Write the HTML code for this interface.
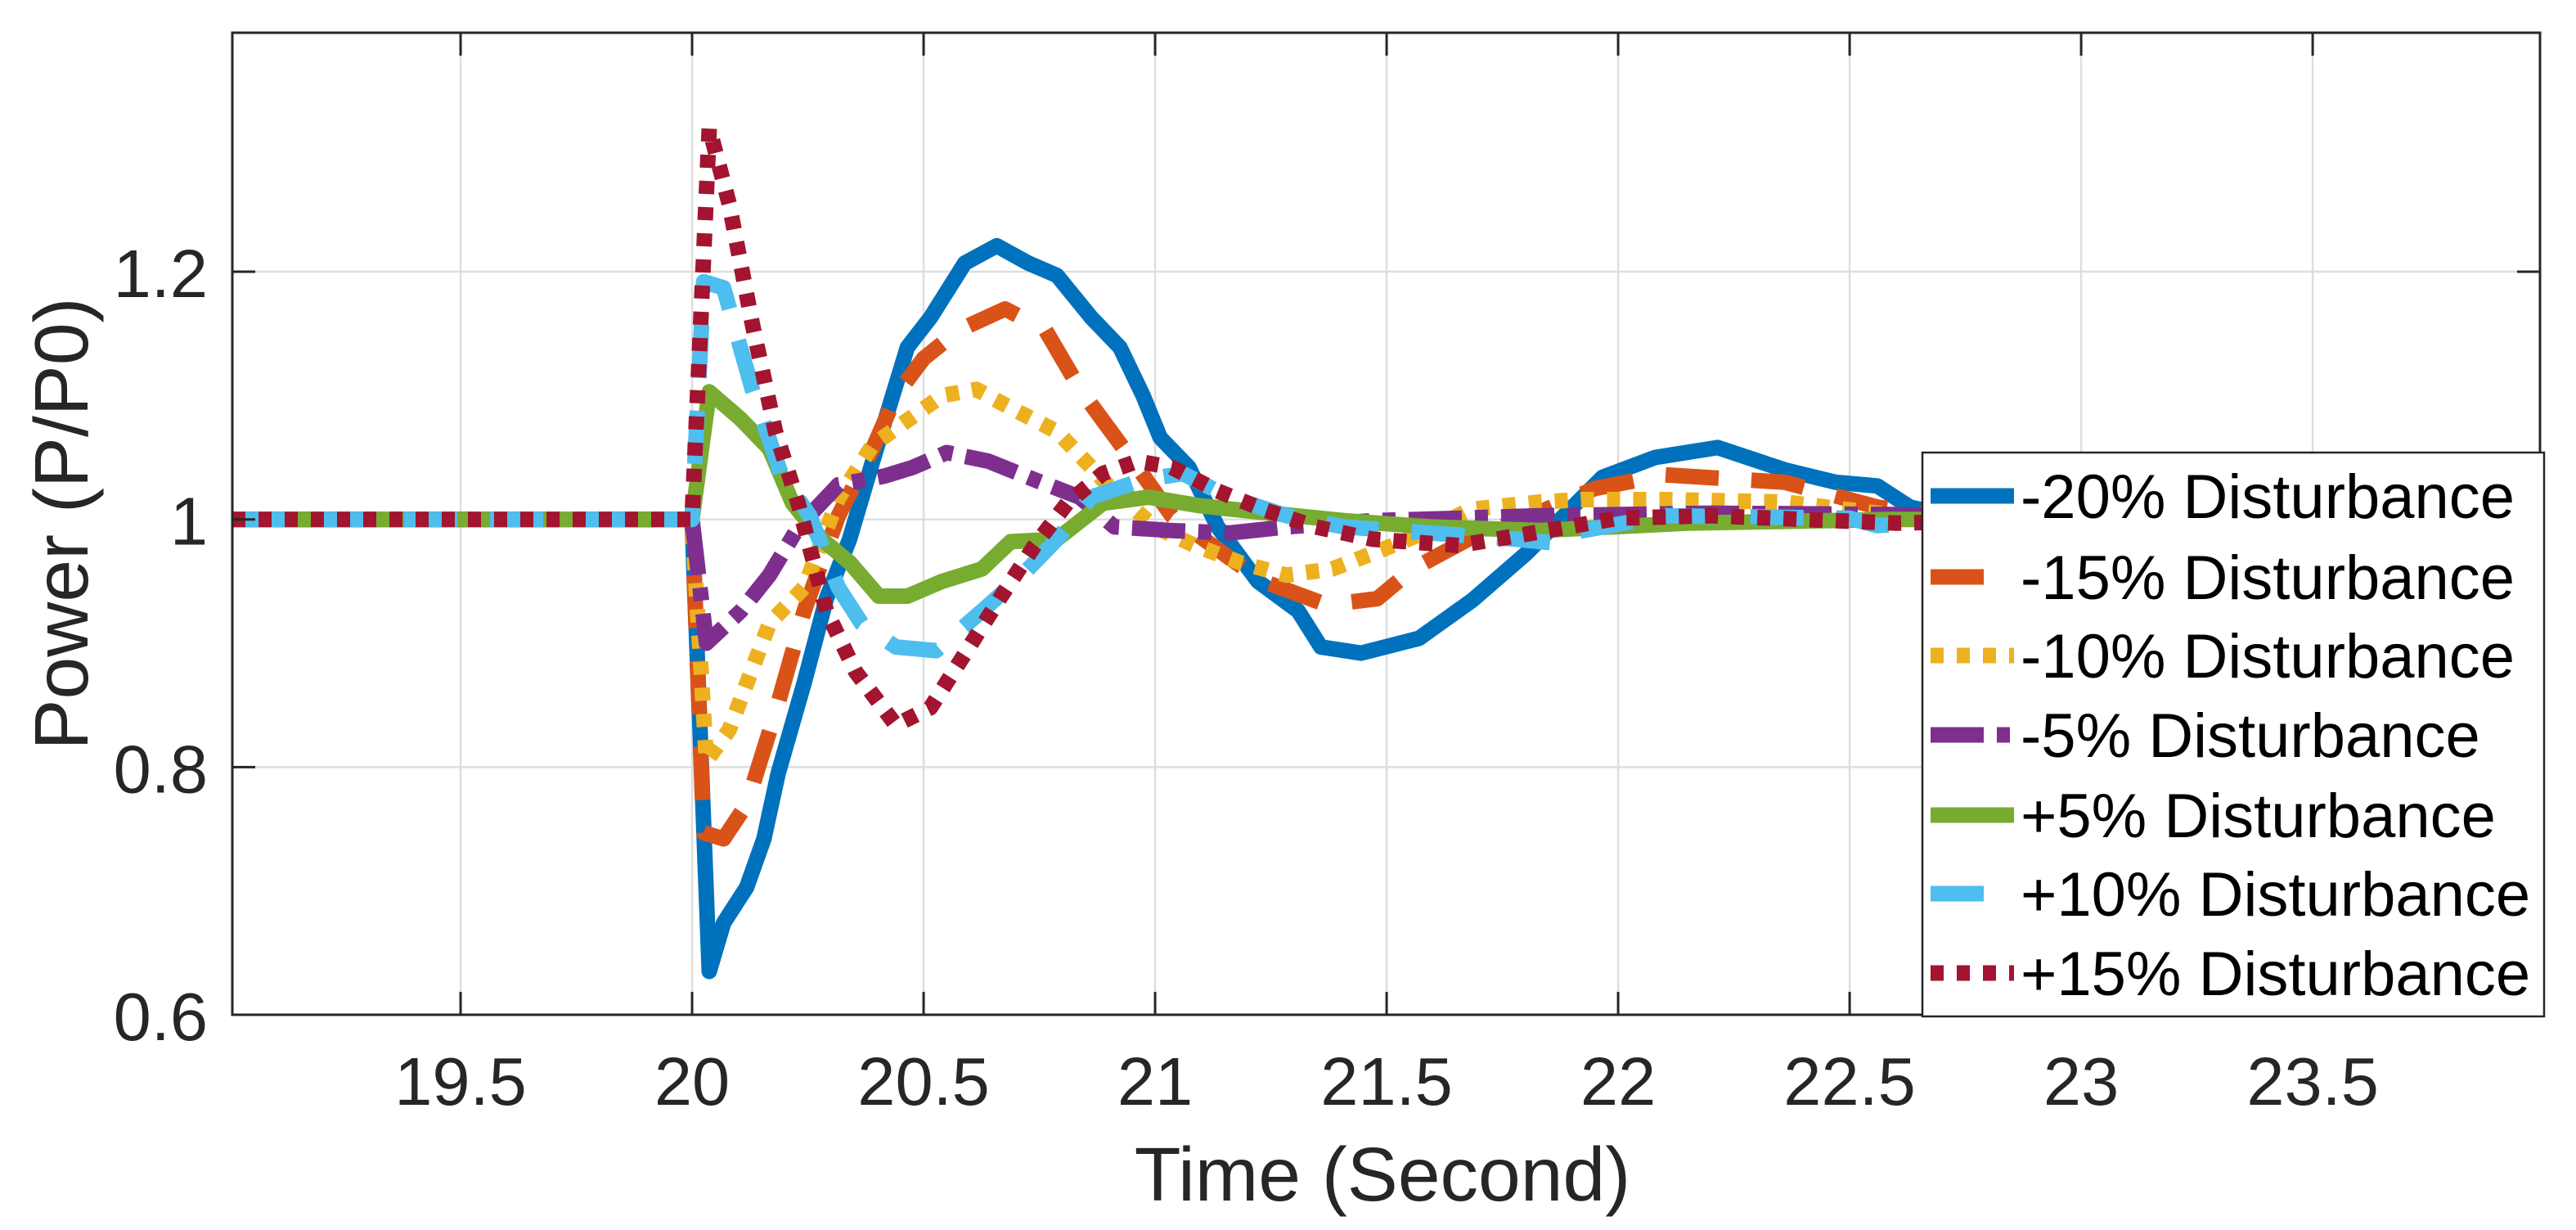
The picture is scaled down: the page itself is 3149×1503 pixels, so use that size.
<!DOCTYPE html>
<html><head><meta charset="utf-8"><style>
html,body{margin:0;padding:0;background:#fff}
svg{display:block}
text{font-family:"Liberation Sans",Arial,sans-serif}
</style></head><body>
<svg id="chart" xmlns="http://www.w3.org/2000/svg" width="3149" height="1503" viewBox="0 0 3149 1503">
<defs><clipPath id="plotclip"><rect x="284" y="40" width="2821" height="1200"/></clipPath></defs>
<rect x="0" y="0" width="3149" height="1503" fill="#fff"/>
<rect x="284" y="40" width="2821" height="1200" fill="#fff"/>
<g id="grid"></g>
<g id="series" clip-path="url(#plotclip)"></g>
<g id="axes"></g>
<text x="1690" y="1467" font-size="93" fill="#262626" text-anchor="middle">Time (Second)</text>
<text transform="translate(107,640) rotate(-90)" font-size="93" fill="#262626" text-anchor="middle">Power (P/P0)</text>
<g id="legend"></g>
</svg>
<script>
const xTicks=[19.5,20,20.5,21,21.5,22,22.5,23,23.5];
const xTickLabels=["19.5","20","20.5","21","21.5","22","22.5","23","23.5"];
const yTicks=[0.6,0.8,1,1.2];
const yTickLabels=["0.6","0.8","1","1.2"];
const seriesNames=["-20% Disturbance","-15% Disturbance","-10% Disturbance","-5% Disturbance","+5% Disturbance","+10% Disturbance","+15% Disturbance"];
const tM20=[19.007,19.5,20.0,20.037,20.068,20.118,20.155,20.186,20.242,20.29,20.34,20.39,20.465,20.515,20.589,20.658,20.726,20.788,20.862,20.924,20.974,21.011,21.073,21.135,21.222,21.309,21.358,21.445,21.57,21.686,21.8,21.966,22.08,22.215,22.36,22.47,22.56,22.63,22.75,23.0,24];
const vM20=[1.0,1.0,1.0,0.635,0.674,0.703,0.742,0.795,0.868,0.936,0.984,1.047,1.139,1.163,1.207,1.221,1.207,1.197,1.163,1.139,1.1,1.066,1.042,0.994,0.95,0.926,0.897,0.892,0.904,0.935,0.972,1.034,1.05,1.058,1.04,1.03,1.027,1.01,1.0,0.998,1.0];
const tM15=[19.007,19.5,20.0,20.025,20.068,20.118,20.18,20.242,20.316,20.39,20.44,20.5,20.577,20.676,20.763,20.838,20.887,20.962,21.036,21.16,21.234,21.371,21.48,21.557,21.686,21.8,21.95,22.1,22.36,22.56,22.75,23.0,24];
const vM15=[1.0,1.0,1.0,0.747,0.742,0.77,0.844,0.926,1.003,1.057,1.1,1.13,1.153,1.17,1.153,1.105,1.08,1.042,1.003,0.969,0.95,0.931,0.936,0.96,0.986,1.001,1.025,1.036,1.03,1.01,1.0,1.0,1.0];
const tM10=[19.007,19.5,20.0,20.031,20.08,20.167,20.242,20.316,20.39,20.465,20.54,20.614,20.688,20.788,20.862,20.912,20.999,21.086,21.185,21.284,21.383,21.48,21.58,21.68,21.83,21.92,22.1,22.36,22.56,22.75,23.0,24];
const vM10=[1.0,1.0,1.0,0.805,0.83,0.916,0.945,1.017,1.06,1.08,1.1,1.105,1.09,1.071,1.042,1.022,0.994,0.979,0.965,0.955,0.96,0.974,0.989,1.008,1.014,1.016,1.016,1.014,1.005,1.0,1.0,1.0];
const tM5=[19.007,19.5,20.0,20.031,20.105,20.167,20.23,20.316,20.416,20.477,20.55,20.64,20.74,20.837,20.912,21.036,21.16,21.284,21.47,21.656,21.83,22.2,22.6,23.0,24];
const vM5=[1.0,1.0,1.0,0.9,0.926,0.955,0.994,1.028,1.035,1.042,1.054,1.047,1.032,1.018,0.994,0.991,0.989,0.994,0.999,1.001,1.003,1.005,1.004,1.0,1.0];
const tP5=[19.007,19.5,20.0,20.037,20.105,20.167,20.217,20.28,20.341,20.403,20.465,20.54,20.626,20.688,20.788,20.887,20.986,21.098,21.222,21.408,21.594,21.83,22.15,22.6,23.0,24];
const vP5=[1.0,1.0,1.0,1.103,1.081,1.057,1.013,0.984,0.965,0.938,0.938,0.95,0.96,0.982,0.984,1.013,1.018,1.011,1.006,0.999,0.994,0.991,0.997,1.0,1.0,1.0];
const tP10=[19.007,19.5,20.0,20.025,20.068,20.13,20.192,20.254,20.316,20.366,20.44,20.527,20.626,20.713,20.788,20.862,20.974,21.06,21.16,21.284,21.408,21.594,21.78,21.86,21.91,22.1,22.5,22.56,22.75,23.0,24];
const vP10=[1.0,1.0,1.0,1.192,1.187,1.105,1.037,1.003,0.945,0.916,0.897,0.894,0.926,0.955,0.984,1.018,1.032,1.037,1.018,1.003,0.994,0.989,0.984,0.981,0.99,1.003,1.001,0.995,1.0,1.0,1.0];
const tP15=[19.007,19.5,20.0,20.037,20.08,20.13,20.18,20.229,20.29,20.353,20.44,20.515,20.59,20.664,20.74,20.81,20.887,20.962,21.036,21.135,21.234,21.346,21.47,21.656,21.8,22.0,22.2,22.6,23.0,24];
const vP15=[1.0,1.0,1.0,1.316,1.255,1.158,1.071,1.013,0.926,0.877,0.834,0.848,0.892,0.936,0.979,1.013,1.037,1.047,1.042,1.023,1.008,0.994,0.984,0.979,0.988,1.001,1.003,0.997,1.0,1.0];

const NS="http://www.w3.org/2000/svg";
const L=284,R=3105,T=40,B=1240,XMIN=19.007,XMAX=23.991,YMIN=0.6,YMAX=1.393;
function sx(t){return L+(t-XMIN)/(XMAX-XMIN)*(R-L);}
function sy(v){return B-(v-YMIN)/(YMAX-YMIN)*(B-T);}
function mk(tag,attrs,parent){const e=document.createElementNS(NS,tag);for(const k in attrs)e.setAttribute(k,attrs[k]);parent.appendChild(e);return e;}
const grid=document.getElementById('grid'),axes=document.getElementById('axes'),series=document.getElementById('series'),legend=document.getElementById('legend');
xTicks.forEach((t,i)=>{
 const g=mk('line',{x1:sx(t),x2:sx(t),y1:T,y2:B,stroke:'#dedede','stroke-width':2.5},grid);
 
 
 const tb=mk('line',{x1:sx(t),x2:sx(t),y1:B,y2:B-28,stroke:'#262626','stroke-width':3},axes);
 
 
 const tt=mk('line',{x1:sx(t),x2:sx(t),y1:T,y2:T+28,stroke:'#262626','stroke-width':3},axes);
 
 
 const lb=mk('text',{x:sx(t),y:1350,'font-size':83,fill:'#262626','text-anchor':'middle'},axes);
 lb.textContent=xTickLabels[i];
 
 
});
yTicks.forEach((v,i)=>{
 const g=mk('line',{x1:L,x2:R,y1:sy(v),y2:sy(v),stroke:'#dedede','stroke-width':2.5},grid);
 
 
 const tl=mk('line',{x1:L,x2:L+28,y1:sy(v),y2:sy(v),stroke:'#262626','stroke-width':3},axes);
 
 
 const tr=mk('line',{x1:R,x2:R-28,y1:sy(v),y2:sy(v),stroke:'#262626','stroke-width':3},axes);
 
 
 const lb=mk('text',{x:254,y:sy(v)+31,'font-size':83,fill:'#262626','text-anchor':'end'},axes);
 lb.textContent=yTickLabels[i];
 
 
});
const box=mk('rect',{x:L,y:T,width:R-L,height:B-T,fill:'none',stroke:'#262626','stroke-width':3},axes);


const styles=[
 {c:'#0072BD',d:'none'},{c:'#D95319',d:'65 40'},{c:'#EDB120',d:'16 16'},{c:'#7E2F8E',d:'65 16 16 16'},
 {c:'#77AC30',d:'none'},{c:'#4DBEEE',d:'65 40'},{c:'#A2142F',d:'16 16'}];
const data=[[tM20,vM20],[tM15,vM15],[tM10,vM10],[tM5,vM5],[tP5,vP5],[tP10,vP10],[tP15,vP15]];
const keys=['series-minus-20','series-minus-15','series-minus-10','series-minus-5','series-plus-5','series-plus-10','series-plus-15'];
data.forEach((s,i)=>{
 const pts=s[0].map((t,j)=>sx(t).toFixed(1)+','+sy(s[1][j]).toFixed(1)).join(' ');
 const p=mk('polyline',{points:pts,fill:'none',stroke:styles[i].c,'stroke-width':19,'stroke-linejoin':'round','stroke-dasharray':styles[i].d},series);
 
 
});
const lbox=mk('rect',{x:2350,y:553,width:760,height:689,fill:'#fff',stroke:'#262626','stroke-width':2.5},legend);


const rowY=[606,705,801,898,996,1092,1189];
seriesNames.forEach((n,i)=>{
 const ln=mk('line',{x1:2360,x2:2462,y1:rowY[i],y2:rowY[i],stroke:styles[i].c,'stroke-width':19,'stroke-dasharray':styles[i].d},legend);
 
 
 const tx=mk('text',{x:2470,y:rowY[i]+27,'font-size':76,fill:'#000'},legend);
 tx.textContent=n;
 
 
});
</script>
</body></html>
